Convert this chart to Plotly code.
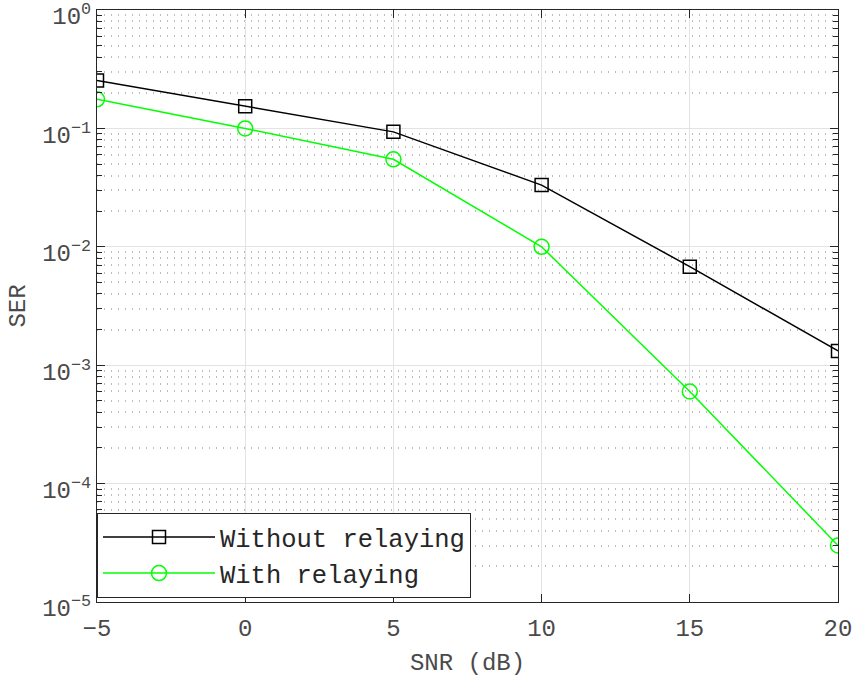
import plotly.graph_objects as go

# SNR sweep (dB) and measured symbol error rates
snr_db = [-5, 0, 5, 10, 15, 20]
ser_without_relay = [0.254, 0.154, 0.0935, 0.0332, 0.0068, 0.00132]
ser_with_relay = [0.176, 0.100, 0.0548, 0.0100, 0.000600, 0.0000300]

x_ticks = [-5, 0, 5, 10, 15, 20]
y_decades = [-5, -4, -3, -2, -1, 0]
y_tick_text = ["10<sup>" + ("\u2212" + str(-e) if e < 0 else str(e)) + "</sup>" for e in y_decades]
y_minor = [m * 10 ** e for e in y_decades[:-1] for m in range(2, 10)]

FONT = "Liberation Mono, Courier New, monospace"
AXIS_COLOR = "#262626"
TEXT_COLOR = "#4a4a4a"

fig = go.Figure()
fig.add_trace(go.Scatter(
    x=snr_db, y=ser_without_relay, name="Without relaying",
    mode="lines+markers",
    line=dict(color="#000000", width=1.5),
    marker=dict(symbol="square-open", size=13, color="#000000", line=dict(width=1.5)),
))
fig.add_trace(go.Scatter(
    x=snr_db, y=ser_with_relay, name="With relaying",
    mode="lines+markers",
    line=dict(color="#00ff00", width=1.5),
    marker=dict(symbol="circle-open", size=15, color="#00ff00", line=dict(width=1.5)),
))

fig.update_layout(
    width=857, height=677,
    margin=dict(l=97, r=19, t=10, b=75, autoexpand=False),
    paper_bgcolor="white", plot_bgcolor="white",
    font=dict(family=FONT, size=24, color=TEXT_COLOR),
    showlegend=True,
    legend=dict(
        x=0, y=0.007, xanchor="left", yanchor="bottom",
        bgcolor="white", bordercolor=AXIS_COLOR, borderwidth=1,
        font=dict(family=FONT, size=25.5, color="#262626"),
        itemwidth=112, tracegroupgap=0,
    ),
    xaxis=dict(
        title=dict(text="SNR (dB)", font=dict(family=FONT, size=24, color=TEXT_COLOR), standoff=16),
        range=[-5, 20], tickvals=x_ticks, automargin=False,
        showline=True, linecolor=AXIS_COLOR, linewidth=1, mirror="ticks",
        ticks="inside", ticklen=8, tickcolor=AXIS_COLOR,
        ticklabelstandoff=4,
        showgrid=True, gridcolor="#e3e3e3", gridwidth=1,
        zeroline=False,
    ),
    yaxis=dict(
        title=dict(text="SER", font=dict(family=FONT, size=24, color=TEXT_COLOR), standoff=9),
        type="log", range=[-5, 0], automargin=False,
        tickvals=[10 ** e for e in y_decades], ticktext=y_tick_text,
        ticklabeloverflow="allow", ticklabelshift=6,
        showline=True, linecolor=AXIS_COLOR, linewidth=1, mirror="ticks",
        ticks="inside", ticklen=8, tickcolor=AXIS_COLOR,
        showgrid=True, gridcolor="#e3e3e3", gridwidth=1,
        zeroline=False,
        minor=dict(
            tickvals=y_minor, ticks="inside", ticklen=5, tickcolor=AXIS_COLOR,
            showgrid=True, gridcolor="#bdbdbd", griddash="1px,6px", gridwidth=1.5,
        ),
    ),
)

fig.write_html("out.html")
